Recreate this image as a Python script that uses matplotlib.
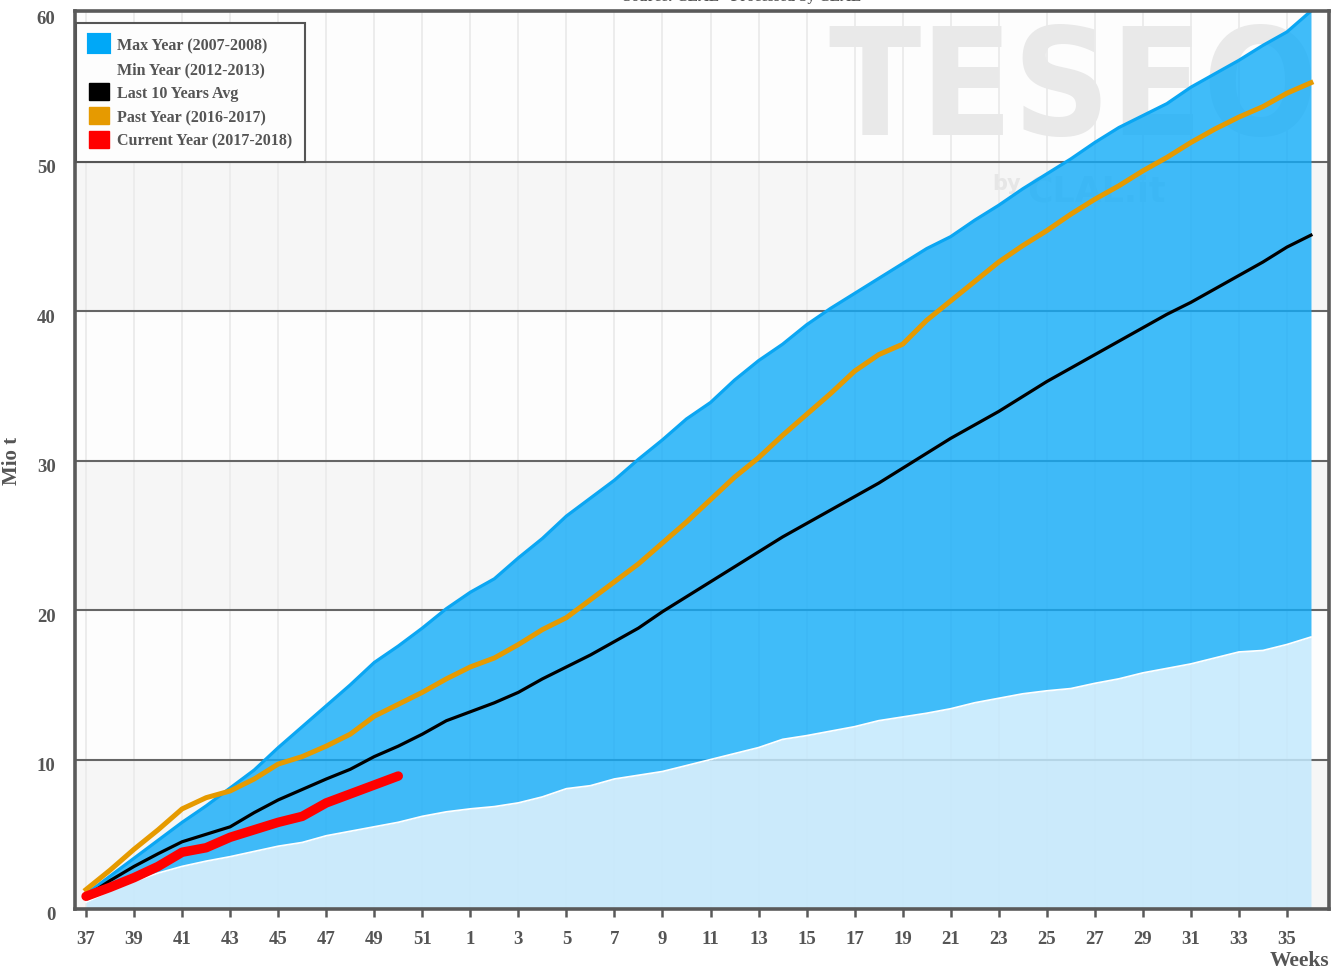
import numpy as np
import matplotlib
matplotlib.use("Agg")
import matplotlib.pyplot as plt
from matplotlib.patches import Patch
from matplotlib.font_manager import FontProperties
from matplotlib.transforms import ScaledTranslation

# weeks of the marketing year (37 -> 52, then 1 -> 36)
weeks = list(range(37, 53)) + list(range(1, 37))

# cumulative production, Mio t
max_year = [1.0, 2.2, 3.4, 4.6, 5.8, 6.9, 8.1, 9.3, 10.8, 12.2,
            13.6, 15.0, 16.5, 17.6, 18.8, 20.1, 21.2, 22.1, 23.5, 24.8,
            26.3, 27.5, 28.7, 30.1, 31.4, 32.8, 33.9, 35.4, 36.7, 37.8,
            39.1, 40.2, 41.2, 42.2, 43.2, 44.2, 45.0, 46.1, 47.1, 48.2,
            49.2, 50.2, 51.3, 52.3, 53.1, 53.9, 55.0, 55.9, 56.8, 57.8,
            58.7, 60.1]
min_year = [0.45, 1.2, 1.85, 2.4, 2.85, 3.2, 3.5, 3.85, 4.2, 4.45,
            4.9, 5.2, 5.5, 5.8, 6.2, 6.5, 6.7, 6.85, 7.1, 7.5,
            8.05, 8.25, 8.7, 8.95, 9.2, 9.6, 10.0, 10.4, 10.8, 11.35,
            11.6, 11.9, 12.2, 12.6, 12.85, 13.1, 13.4, 13.8, 14.1, 14.4,
            14.6, 14.75, 15.1, 15.4, 15.8, 16.1, 16.4, 16.8, 17.2, 17.3,
            17.7, 18.2]
avg_10y = [0.85, 1.9, 2.85, 3.7, 4.5, 5.0, 5.5, 6.45, 7.3, 8.0,
           8.7, 9.35, 10.2, 10.9, 11.7, 12.6, 13.2, 13.8, 14.5, 15.4,
           16.2, 17.0, 17.9, 18.8, 19.9, 20.9, 21.9, 22.9, 23.9, 24.9,
           25.8, 26.7, 27.6, 28.5, 29.5, 30.5, 31.5, 32.4, 33.3, 34.3,
           35.3, 36.2, 37.1, 38.0, 38.9, 39.8, 40.6, 41.5, 42.4, 43.3,
           44.3, 45.1]
past_year = [1.3, 2.6, 4.0, 5.3, 6.7, 7.45, 7.9, 8.7, 9.7, 10.2,
             10.9, 11.7, 12.9, 13.7, 14.5, 15.4, 16.2, 16.8, 17.7, 18.7,
             19.5, 20.7, 21.9, 23.1, 24.5, 25.9, 27.4, 28.9, 30.2, 31.7,
             33.1, 34.5, 36.0, 37.1, 37.8, 39.4, 40.7, 42.0, 43.3, 44.4,
             45.4, 46.5, 47.5, 48.4, 49.4, 50.3, 51.3, 52.2, 53.0, 53.7,
             54.6, 55.3]
current_year = [0.85, 1.45, 2.1, 2.85, 3.8, 4.1, 4.8, 5.3, 5.8, 6.2,
                7.1, 7.7, 8.3, 8.9]

labels = ["Max Year (2007-2008)", "Min Year (2012-2013)", "Last 10 Years Avg",
          "Past Year (2016-2017)", "Current Year (2017-2018)"]

TXT = "#555555"
SERIF = "Liberation Serif"

x = np.arange(len(weeks))
xc = np.arange(len(current_year))

fig = plt.figure(figsize=(13.32, 9.70), dpi=100)
ax = fig.add_axes([75 / 1332, 60 / 970, 1254 / 1332, 898 / 970])
ax.set_xlim(-0.46, 51.75)
ax.set_ylim(0, 60.1)

# alternating background bands
for lo in range(0, 60, 10):
    col = "#f6f6f6" if (lo // 10) % 2 == 0 else "#fdfdfd"
    ax.axhspan(lo, lo + 10, color=col, zorder=0, lw=0)
for xv in x[::2]:
    ax.axvline(xv, color="#ebebeb", lw=1.3, zorder=0.3)
for yv in range(10, 60, 10):
    ax.axhline(yv, color="#666666", lw=1.5, zorder=0.4)

# watermark
wm = ax.text(828 / 1332, 1 - 166 / 970, "TESEO", transform=fig.transFigure,
             family="DejaVu Sans", stretch="condensed", weight="bold",
             size=100, color="#e9e9e9", va="bottom", ha="left", zorder=0.6)
ax.text(992 / 1332, 1 - 190 / 970, "by", transform=fig.transFigure,
        family="DejaVu Sans", weight="bold", size=15, color="#e6e6e6",
        va="baseline", zorder=0.6)
ax.text(1027 / 1332, 1 - 202 / 970, "CLAL.it", transform=fig.transFigure,
        family="DejaVu Sans", weight="bold", size=25, color="#e6e6e6",
        va="baseline", zorder=0.6)

# range fills
ax.fill_between(x, 0, min_year, color=(196 / 255, 233 / 255, 253 / 255),
                alpha=0.85, lw=0, zorder=1)
ax.fill_between(x, min_year, max_year, color=(17 / 255, 172 / 255, 249 / 255),
                alpha=0.8, lw=0, zorder=1)
ax.plot(x, max_year, color="#0aa6f3", lw=2.3, zorder=2)
ax.plot(x, min_year, color="white", lw=1.3, zorder=2)

ax.plot(x, avg_10y, color="black", lw=2.3, zorder=3,
        solid_joinstyle="round")
ax.plot(x, past_year, color="#e69a00", lw=3.6, zorder=3,
        solid_joinstyle="round")
ax.plot(xc, current_year, color="#ff0000", lw=6.8, zorder=4,
        solid_capstyle="round", solid_joinstyle="round")

# axes styling
for sp in ax.spines.values():
    sp.set_color("#5a5a5a")
    sp.set_linewidth(2.6)
    sp.set_zorder(5)

ax.set_xticks(x[::2])
ax.set_xticklabels([str(w) for w in weeks[::2]])
ax.set_yticks(range(0, 61, 10))
ax.tick_params(axis="x", length=6, width=1.8, color="#5a5a5a", pad=9,
               labelsize=13.5, labelcolor=TXT)
ax.tick_params(axis="y", length=0, pad=14, labelsize=13.5, labelcolor=TXT)
for lab in ax.get_xticklabels() + ax.get_yticklabels():
    lab.set_family(SERIF)
    lab.set_weight("bold")
off = ScaledTranslation(0, -4 / 100, fig.dpi_scale_trans)
for lab in ax.get_yticklabels():
    lab.set_transform(lab.get_transform() + off)

ax.set_ylabel("Mio t", family=SERIF, weight="bold", size=15, color=TXT)
ax.yaxis.set_label_coords(-0.042, 0.5)
ax.set_xlabel("Weeks", family=SERIF, weight="bold", size=15.5, color=TXT,
              loc="right", labelpad=2)

fig.text(742 / 1332, 1 + 3 / 970, "Source: CLAL - Processed by CLAL",
         family=SERIF, weight="bold", size=11, color=TXT,
         ha="center", va="center")

# legend
handles = [
    Patch(facecolor="#00a8f7", edgecolor="#00a8f7", linewidth=3,
          joinstyle="round"),
    Patch(facecolor="none", edgecolor="none"),
    Patch(facecolor="black", edgecolor="black"),
    Patch(facecolor="#e69a00", edgecolor="#e69a00"),
    Patch(facecolor="#ff0000", edgecolor="#ff0000"),
]
leg = ax.legend(handles, labels, loc="upper left",
                bbox_to_anchor=(0.001, 0.987), borderaxespad=0,
                prop=FontProperties(family=SERIF, weight="bold", size=11.5),
                labelcolor=TXT, fancybox=False, edgecolor="#555555",
                facecolor="#fdfdfd", framealpha=1, handlelength=1.25,
                handleheight=1.25, handletextpad=0.5, labelspacing=0.38,
                borderpad=0.8)
leg.get_frame().set_linewidth(1.5)
leg.set_zorder(10)

# fit the watermark word to its box width
renderer = fig.canvas.get_renderer()
w = wm.get_window_extent(renderer).width
wm.set_fontsize(100 * 490 / w)

fig.savefig("out.png", dpi=100)
